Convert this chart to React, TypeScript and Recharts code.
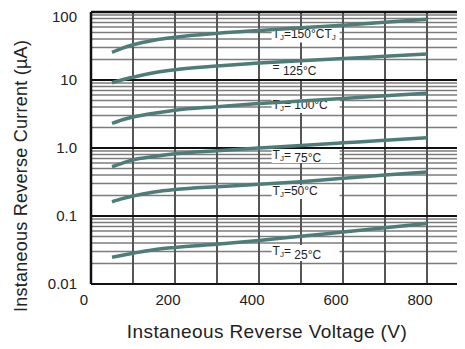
import React from 'react';
import { LineChart, Line, XAxis, YAxis, ReferenceLine, ReferenceArea } from 'recharts';

// reverse current vs reverse voltage, one curve per junction temperature
const volts = [50, 75, 100, 150, 200, 300, 400, 500, 600, 700, 800];
const t150 = [25.5, 29.5, 33, 38.5, 42.5, 48.5, 53.5, 58.5, 64, 70.5, 78];
const t125 = [9.1, 10.1, 11.0, 12.8, 14.2, 16.1, 17.8, 19.2, 20.7, 22.3, 24.1];
const t100 = [2.3, 2.6, 2.85, 3.25, 3.6, 4.05, 4.5, 4.9, 5.35, 5.85, 6.4];
const t75 = [0.53, 0.6, 0.67, 0.75, 0.82, 0.91, 1.0, 1.09, 1.19, 1.3, 1.41];
const t50 = [0.162, 0.18, 0.197, 0.225, 0.245, 0.27, 0.292, 0.32, 0.358, 0.4, 0.444];
const t25 = [0.0247, 0.0265, 0.0283, 0.032, 0.0345, 0.0385, 0.0435, 0.0505, 0.058, 0.067, 0.078];

const xTicks = [0, 200, 400, 600, 800];
const yTicks = [0.01, 0.1, 1, 10, 100];
const yTickLabels = ['0.01', '0.1', '1.0', '10', '100'];
const vGrid = [100, 200, 300, 400, 500, 600, 700, 800];
const decadeGrid = [0.1, 1, 10];
const minorGrid = [0.01, 0.1, 1, 10].flatMap(d => [2, 3, 4, 5, 6, 7, 8, 9].map(m => d * m));

const data = volts.map((v, i) => ({
  v,
  t150: t150[i],
  t125: t125[i],
  t100: t100[i],
  t75: t75[i],
  t50: t50[i],
  t25: t25[i],
}));

type Part = { text: string; sub?: boolean; shift?: number };

// temperature labels: white box in data units + text pieces
const labels: { x1: number; x2: number; y1: number; y2: number; parts: Part[] }[] = [
  { x1: 430, x2: 592, y1: 35.6, y2: 57.2, parts: [{ text: 'T' }, { text: 'J', sub: true }, { text: '=150°C' }, { text: 'T' }, { text: 'J', sub: true }] },
  { x1: 430, x2: 592, y1: 10.35, y2: 16.6, parts: [{ text: '=', shift: -4 }, { text: ' 125°C' }] },
  { x1: 430, x2: 592, y1: 3.27, y2: 5.26, parts: [{ text: 'T' }, { text: 'J', sub: true }, { text: '= 100°C' }] },
  { x1: 430, x2: 592, y1: 0.602, y2: 0.967, parts: [{ text: 'T' }, { text: 'J', sub: true }, { text: '= ' }, { text: '75°C', shift: 3 }] },
  { x1: 430, x2: 592, y1: 0.178, y2: 0.286, parts: [{ text: 'T' }, { text: 'J', sub: true }, { text: '=50°C' }] },
  { x1: 430, x2: 592, y1: 0.0218, y2: 0.0375, parts: [{ text: 'T' }, { text: 'J', sub: true }, { text: '= ' }, { text: '25°C', shift: 4 }] },
];

const FONT = '"Liberation Sans", Arial, sans-serif';
const CURVE = '#4e7d79';

const renderParts = (parts: Part[]) => (props: any) => {
  const vb = props.viewBox || {};
  let cur = 0;
  const spans = parts.map((p, i) => {
    const target = p.sub ? 2 : p.shift || 0;
    const dy = target - cur;
    cur = target;
    return (
      <tspan key={i} dy={dy} fontSize={p.sub ? 8 : 12}>
        {p.text}
      </tspan>
    );
  });
  return (
    <text x={vb.x + 1} y={vb.y + 10} fill="#222" fontFamily={FONT} fontSize={12}>
      {spans}
    </text>
  );
};

const YTitle = (props: any) => {
  const vb = props.viewBox;
  const x = vb.x - 4;
  const y = vb.y + 164;
  return (
    <text transform={`translate(${x},${y}) rotate(-90)`} textAnchor="middle" fill="#222"
      fontFamily={FONT} fontSize={18} letterSpacing={0.25}>
      Instaneous Reverse Current (µA)
    </text>
  );
};

const XTitle = (props: any) => {
  const vb = props.viewBox;
  return (
    <text x={vb.x + 176} y={vb.y + 54} textAnchor="middle" fill="#222"
      fontFamily={FONT} fontSize={19} letterSpacing={0.4}>
      Instaneous Reverse Voltage (V)
    </text>
  );
};

const series = ['t150', 't125', 't100', 't75', 't50', 't25'];

export default function App() {
  return (
    <div style={{ width: 457, height: 341, overflow: 'hidden' }}>
      <LineChart width={470} height={341} data={data} margin={{ top: 4, right: 9, bottom: 35, left: 23 }}>
        <XAxis
          dataKey="v"
          type="number"
          domain={[0, 900]}
          ticks={xTicks}
          allowDataOverflow
          axisLine={{ stroke: '#111', strokeWidth: 2 }}
          tickLine={false}
          tickSize={0}
          tickMargin={10}
          height={30}
          tick={{ fontSize: 15, fill: '#222', fontFamily: FONT, dx: -7 }}
          label={{ content: XTitle }}
        />
        <YAxis
          type="number"
          scale="log"
          domain={[0.01, 100]}
          ticks={yTicks}
          allowDataOverflow
          width={60}
          axisLine={{ stroke: '#111', strokeWidth: 2.5 }}
          tickLine={false}
          tickSize={0}
          tickMargin={14}
          tickFormatter={(v: number) => yTickLabels[yTicks.indexOf(v)] ?? String(v)}
          tick={{ fontSize: 15, fill: '#222', fontFamily: FONT }}
          label={{ content: YTitle }}
        />
        {minorGrid.map(g => (
          <ReferenceLine key={`m${g}`} y={g} stroke="#7c7c7c" strokeWidth={1.5} zIndex={-90} />
        ))}
        {vGrid.map(g => (
          <ReferenceLine key={`v${g}`} x={g} stroke="#555" strokeWidth={2} zIndex={-85} />
        ))}
        {labels.map((l, i) => (
          <ReferenceArea key={`l${i}`} x1={l.x1} x2={l.x2} y1={l.y1} y2={l.y2} zIndex={-80}
            fill="#fff" fillOpacity={1} stroke="none" label={{ content: renderParts(l.parts) }} />
        ))}
        {decadeGrid.map(g => (
          <ReferenceLine key={`d${g}`} y={g} stroke="#111" strokeWidth={2} zIndex={-70} />
        ))}
        <ReferenceLine y={100} stroke="#111" strokeWidth={2.5} zIndex={-70} />
        {series.map(s => (
          <Line key={s} dataKey={s} type="monotone" stroke={CURVE} strokeWidth={3.5}
            dot={false} isAnimationActive={false} />
        ))}
      </LineChart>
    </div>
  );
}
